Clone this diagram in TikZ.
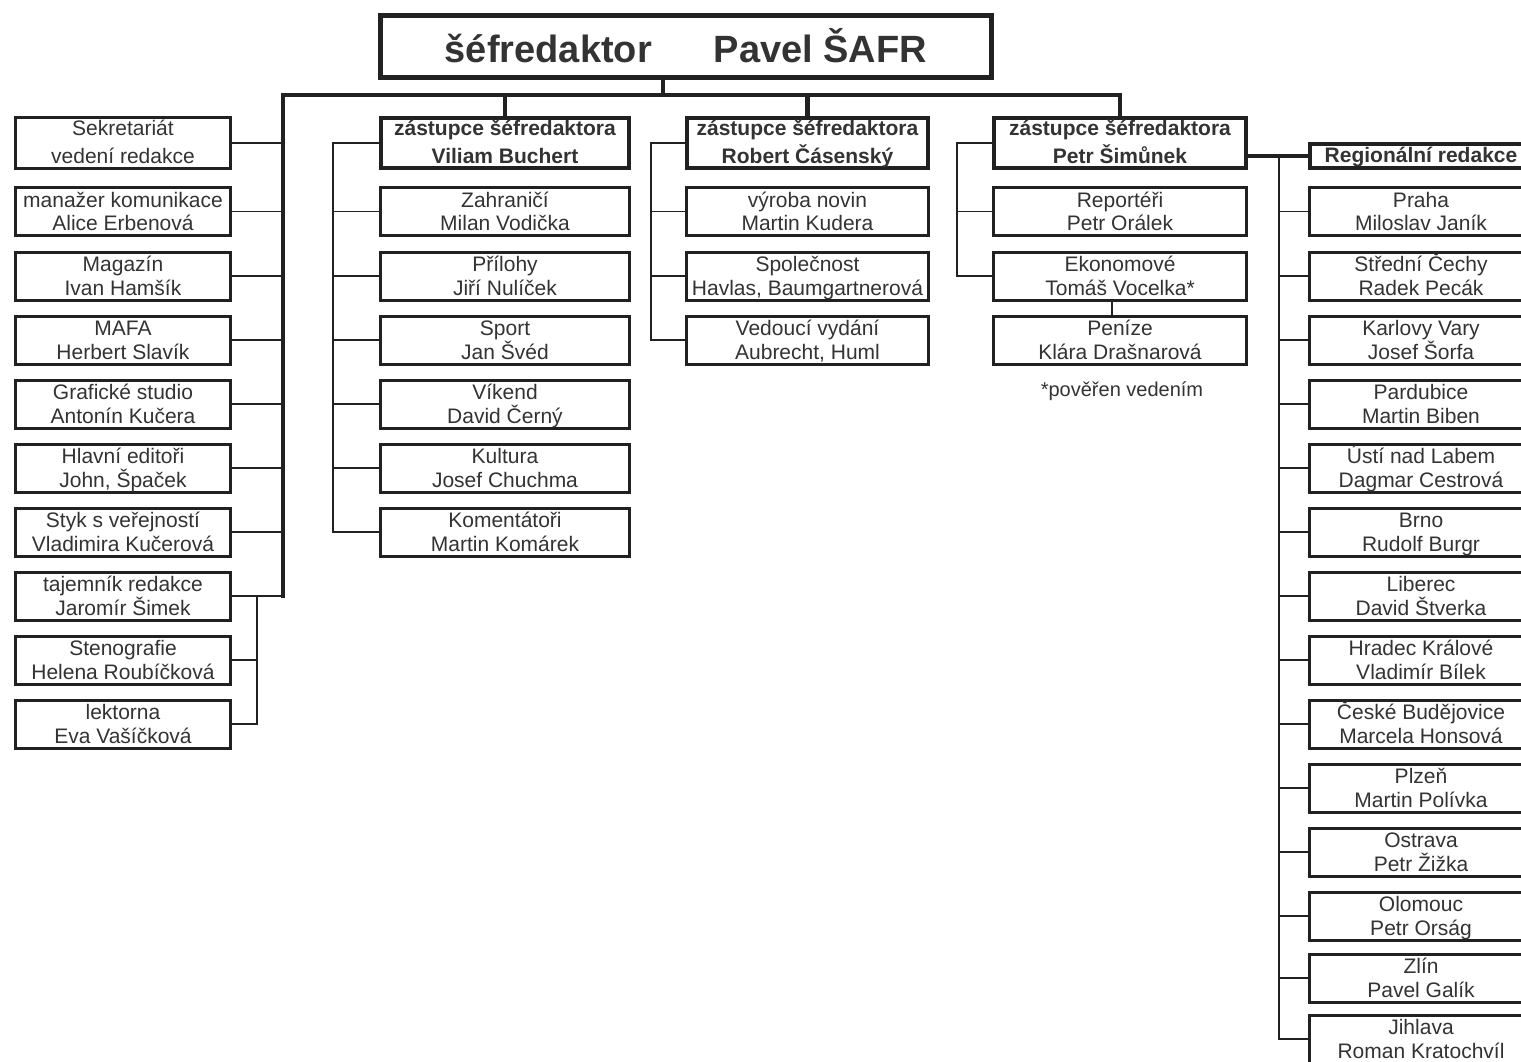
\documentclass[tikz,border=0pt]{standalone}
\usepackage{fontspec}
\setmainfont{Liberation Sans}
\definecolor{ink}{gray}{0.13}
\definecolor{txt}{gray}{0.2}
\newcommand{\two}[2]{\vbox{\offinterlineskip\halign{\hfil##\hfil\cr
  \raisebox{0pt}[18.5pt][5pt]{#1}\cr\raisebox{0pt}[18.5pt][4pt]{#2}\cr}}}
\newcommand{\twob}[2]{\vbox{\offinterlineskip\halign{\hfil##\hfil\cr
  \raisebox{0pt}[17pt][9pt]{#1}\cr\raisebox{0pt}[18.5pt][4.5pt]{#2}\cr}}}
\begin{document}
\begin{tikzpicture}[x=1pt,y=-1pt,
  box/.style={draw=ink, line width=3pt, inner sep=0pt, text=txt,
     font=\fontsize{21}{23}\selectfont, minimum height=48pt},
  lbox/.style={box, minimum width=215pt},
  bbox/.style={box, minimum width=249pt},
  cbox/.style={box, minimum width=242pt},
  sbox/.style={box, minimum width=253pt},
  rbox/.style={box, minimum width=223pt},
  dep/.style={draw=ink, line width=4.5pt, inner sep=0pt, text=txt,
     font=\bfseries\fontsize{21}{27}\selectfont, minimum height=50pt},
  thin/.style={draw=ink, line width=1.5pt},
  thick/.style={draw=ink, line width=4.5pt}]
\useasboundingbox (0,0) rectangle (1521,1061);
\clip (0,0) rectangle (1521,1061);
\fill[white] (0,0) rectangle (1521,1061);

% top
\node[draw=ink, line width=5pt, minimum width=611pt, minimum height=62pt, inner sep=0pt, text=txt,
  font=\bfseries\fontsize{38}{40}\selectfont] (top) at (686,46.5) {\raisebox{2pt}{šéfredaktor\hspace{62pt}Pavel ŠAFR}};

% deputies
\node[dep, minimum width=248pt] (buch) at (505,143) {\twob{zástupce šéfredaktora}{Viliam Buchert}};
\node[dep, minimum width=241pt] (cas) at (807.5,143) {\twob{zástupce šéfredaktora}{Robert Čásenský}};
\node[dep, minimum width=252pt] (sim) at (1120,143) {\twob{zástupce šéfredaktora}{Petr Šimůnek}};
\node[draw=ink, line width=4.5pt, inner sep=0pt, text=txt, minimum width=222pt, minimum height=24pt,
  font=\bfseries\fontsize{21}{24}\selectfont] (reg) at (1421,156) {\raisebox{0pt}[18pt][5pt]{Regionální redakce}};

% left column
\node[lbox, minimum height=51pt] (l1) at (123,143) {\twob{Sekretariát}{vedení redakce}};
\node[lbox] (l2) at (123,211.5) {\two{manažer komunikace}{Alice Erbenová}};
\node[lbox] (l3) at (123,276) {\two{Magazín}{Ivan Hamšík}};
\node[lbox] (l4) at (123,340) {\two{MAFA}{Herbert Slavík}};
\node[lbox] (l5) at (123,404) {\two{Grafické studio}{Antonín Kučera}};
\node[lbox] (l6) at (123,468) {\two{Hlavní editoři}{John, Špaček}};
\node[lbox] (l7) at (123,532) {\two{Styk s veřejností}{Vladimira Kučerová}};
\node[lbox] (l8) at (123,596) {\two{tajemník redakce}{Jaromír Šimek}};
\node[lbox] (l9) at (123,660) {\two{Stenografie}{Helena Roubíčková}};
\node[lbox] (l10) at (123,724) {\two{lektorna}{Eva Vašíčková}};

% Buchert column
\node[bbox] (b1) at (505,211.5) {\two{Zahraničí}{Milan Vodička}};
\node[bbox] (b2) at (505,276) {\two{Přílohy}{Jiří Nulíček}};
\node[bbox] (b3) at (505,340) {\two{Sport}{Jan Švéd}};
\node[bbox] (b4) at (505,404) {\two{Víkend}{David Černý}};
\node[bbox] (b5) at (505,468) {\two{Kultura}{Josef Chuchma}};
\node[bbox] (b6) at (505,532) {\two{Komentátoři}{Martin Komárek}};

% Čásenský column
\node[cbox] (c1) at (807.5,211.5) {\two{výroba novin}{Martin Kudera}};
\node[cbox] (c2) at (807.5,276) {\two{Společnost}{Havlas, Baumgartnerová}};
\node[cbox] (c3) at (807.5,340) {\two{Vedoucí vydání}{Aubrecht, Huml}};

% Šimůnek column
\node[sbox] (s1) at (1120,211.5) {\two{Reportéři}{Petr Orálek}};
\node[sbox] (s2) at (1120,276) {\two{Ekonomové}{Tomáš Vocelka*}};
\node[sbox] (s3) at (1120,340) {\two{Peníze}{Klára Drašnarová}};
\node[text=txt, font=\fontsize{20}{22}\selectfont, inner sep=0pt] (note) at (1122,391) {*pověřen vedením};

% regional column
\node[rbox] (r1) at (1421,211.5) {\two{Praha}{Miloslav Janík}};
\node[rbox] (r2) at (1421,276) {\two{Střední Čechy}{Radek Pecák}};
\node[rbox] (r3) at (1421,340) {\two{Karlovy Vary}{Josef Šorfa}};
\node[rbox] (r4) at (1421,404) {\two{Pardubice}{Martin Biben}};
\node[rbox] (r5) at (1421,468) {\two{Ústí nad Labem}{Dagmar Cestrová}};
\node[rbox] (r6) at (1421,532) {\two{Brno}{Rudolf Burgr}};
\node[rbox] (r7) at (1421,596) {\two{Liberec}{David Štverka}};
\node[rbox] (r8) at (1421,660) {\two{Hradec Králové}{Vladimír Bílek}};
\node[rbox] (r9) at (1421,724) {\two{České Budějovice}{Marcela Honsová}};
\node[rbox] (r10) at (1421,788) {\two{Plzeň}{Martin Polívka}};
\node[rbox] (r11) at (1421,852) {\two{Ostrava}{Petr Žižka}};
\node[rbox] (r12) at (1421,916) {\two{Olomouc}{Petr Orság}};
\node[rbox] (r13) at (1421,978) {\two{Zlín}{Pavel Galík}};
\node[rbox] (r14) at (1421,1039) {\two{Jihlava}{Roman Kratochvíl}};

% spine
\coordinate (sp) at (663,95);
\coordinate (spL) at (283,95);
\draw[thick] (top.south -| sp) -- (sp);
\draw[thick, line cap=rect] (spL |- l8.east) -- (spL) -- (sp -| sim.north);
\draw[thick] (buch.north) -- (buch.north |- sp);
\draw[thick] (cas.north) -- (cas.north |- sp);
\draw[thick] (sim.north) -- (sim.north |- sp);
\draw[thick] (reg.west) -- (reg.west -| sim.east);

% left connectors
\foreach \n in {l1,l2,l3,l4,l5,l6,l7,l8}
  \draw[thin] (\n.east) -- (\n.east -| spL);
\coordinate (bl) at (257,0);
\draw[thin] (l8.east -| bl) -- (l10.east -| bl) -- (l10.east);
\draw[thin] (l9.east) -- (l9.east -| bl);

% Buchert bracket
\coordinate (bb) at (333,0);
\draw[thin] (buch.west) -- (buch.west -| bb) -- (b6.west -| bb) -- (b6.west);
\foreach \n in {b1,b2,b3,b4,b5}
  \draw[thin] (\n.west) -- (\n.west -| bb);

% Čásenský bracket
\coordinate (cb) at (651,0);
\draw[thin] (cas.west) -- (cas.west -| cb) -- (c3.west -| cb) -- (c3.west);
\foreach \n in {c1,c2}
  \draw[thin] (\n.west) -- (\n.west -| cb);

% Šimůnek bracket
\coordinate (sb) at (957,0);
\coordinate (pc) at (1112,0);
\draw[thin] (sim.west) -- (sim.west -| sb) -- (s2.west -| sb) -- (s2.west);
\draw[thin] (s1.west) -- (s1.west -| sb);
\draw[thin] (s2.south -| pc) -- (s3.north -| pc);

% regional bracket
\coordinate (rb) at (1279,0);
\draw[thin] (reg.west -| rb) -- (r14.west -| rb) -- (r14.west);
\foreach \n in {r1,r2,r3,r4,r5,r6,r7,r8,r9,r10,r11,r12,r13}
  \draw[thin] (\n.west) -- (\n.west -| rb);
\end{tikzpicture}
\end{document}
